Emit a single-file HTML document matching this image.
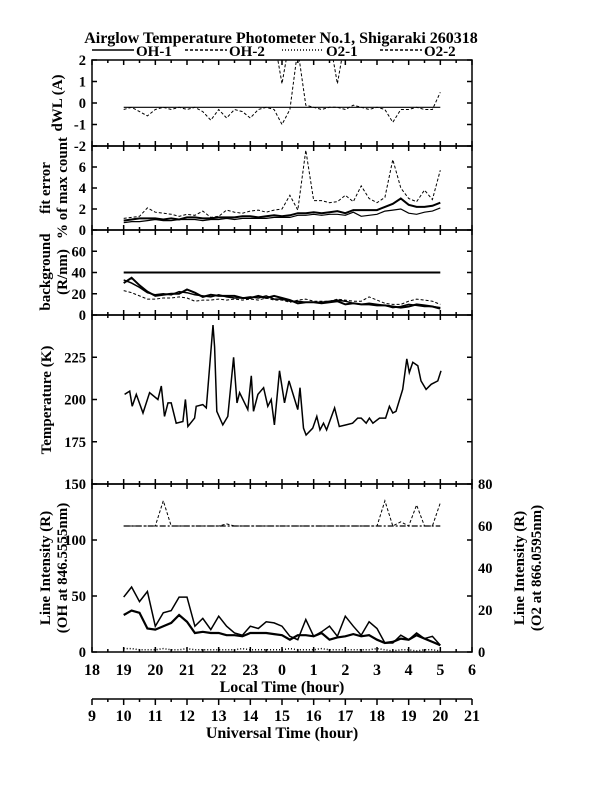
<!DOCTYPE html>
<html><head><meta charset="utf-8"><style>
body{margin:0;background:#fff;width:612px;height:792px;overflow:hidden}
svg{display:block}
text{font-family:"Liberation Serif",serif;font-weight:bold;fill:#000}
</style></head><body>
<svg id="c" width="612" height="792" viewBox="0 0 612 792"></svg>
<script>
// ---- data (x = hours since 19 LT) ----
const gridT=[0,0.25,0.5,0.75,1,1.25,1.5,1.75,2,2.25,2.5,2.75,3,3.25,3.5,3.75,4,4.25,4.5,4.75,5,5.25,5.5,5.75,6,6.25,6.5,6.75,7,7.25,7.5,7.75,8,8.25,8.5,8.75,9,9.25,9.5,9.75,10];
const dwlOH1=[-0.2,-0.2,-0.2,-0.2,-0.2,-0.2,-0.2,-0.2,-0.2,-0.2,-0.2,-0.2,-0.2,-0.2,-0.2,-0.2,-0.2,-0.2,-0.2,-0.2,-0.2,-0.2,-0.2,-0.2,-0.2,-0.2,-0.2,-0.2,-0.2,-0.2,-0.2,-0.2,-0.2,-0.2,-0.2,-0.2,-0.2,-0.2,-0.2,-0.2,-0.2];
const dwlOH2=[-0.3,-0.2,-0.4,-0.6,-0.3,-0.2,-0.3,-0.2,-0.3,-0.2,-0.4,-0.8,-0.3,-0.7,-0.3,-0.4,-0.7,-0.3,-0.2,-0.3,-1.0,-0.3,2.5,-0.1,-0.2,-0.3,-0.2,-0.2,-0.3,-0.1,-0.2,-0.3,-0.2,-0.3,-0.9,-0.3,-0.3,-0.2,-0.3,-0.3,0.5];
const dwlO2=[3,3,2.2,3,3,3,3,3,3,3,3,3,3,3,3,3,3,3,3,3,0.9,3,3,3,3,3,3,0.9,3,3,3,3,3,3,3,3,3,3,3,3,3];
const fitA=[0.9,1.0,1.1,1.1,1.1,1.0,1.1,1.0,1.2,1.2,1.1,1.1,1.2,1.2,1.2,1.3,1.3,1.2,1.3,1.4,1.3,1.4,1.6,1.6,1.7,1.6,1.7,1.8,1.6,1.9,1.9,1.9,1.9,2.2,2.5,3.0,2.4,2.2,2.2,2.3,2.6];
const fitB=[0.7,0.8,0.8,0.9,1.0,0.9,0.9,1.0,1.0,1.0,0.9,1.0,1.0,1.1,1.0,1.1,1.1,1.1,1.1,1.2,1.2,1.2,1.4,1.4,1.5,1.4,1.5,1.5,1.4,1.7,1.3,1.4,1.5,1.8,1.9,2.0,1.6,1.5,1.7,1.8,2.1];
const fitC=[1.1,1.2,1.3,2.1,1.7,1.6,1.5,1.3,1.5,1.4,1.8,1.2,1.3,1.9,1.7,1.6,1.8,1.9,1.7,1.9,2.0,3.3,1.9,7.6,2.8,2.8,2.6,2.7,3.3,2.7,4.2,3.0,2.6,3.1,6.7,4.0,3.0,2.7,3.8,2.9,5.7];
const bgRef=[40,40,40,40,40,40,40,40,40,40,40,40,40,40,40,40,40,40,40,40,40,40,40,40,40,40,40,40,40,40,40,40,40,40,40,40,40,40,40,40,40];
const bgA=[30,35,28,22,18,19,20,20,24,21,17,19,18,18,18,16,16,18,16,18,16,14,11,12,12,11,12,13,10,11,10,10,9,9,8,7,8,10,9,8,6];
const bgB=[33,30,26,21,19,20,19,22,21,19,18,17,19,17,16,16,17,16,18,15,15,13,13,12,12,12,13,14,13,11,10,11,10,9,7,8,10,9,8,8,7];
const bgC=[23,21,18,15,15,16,16,17,16,13,14,14,15,14,15,14,15,14,16,14,14,12,14,15,13,13,13,15,14,13,13,17,14,11,10,10,13,15,14,13,10];
const tempT=[0.03,0.19,0.27,0.40,0.61,0.82,1.08,1.19,1.29,1.40,1.50,1.66,1.87,1.95,2.03,2.24,2.29,2.50,2.61,2.82,2.87,2.94,3.13,3.29,3.47,3.58,3.66,3.92,4.03,4.10,4.24,4.42,4.55,4.66,4.76,4.92,5.08,5.22,5.50,5.57,5.68,5.76,5.97,6.10,6.20,6.31,6.41,6.66,6.81,7.02,7.23,7.39,7.50,7.66,7.76,7.87,8.08,8.27,8.39,8.50,8.60,8.81,8.94,9.02,9.13,9.29,9.39,9.55,9.71,9.92,10.02];
const tempV=[203,205,196,203,192,204,200,208,190,198,198,186,187,200,184,189,196,197,195,244,231,193,185,190,225,198,204,194,214,193,203,207,196,200,185,217,198,211,194,207,183,179,183,190,182,186,182,195,184,185,186,189,189,186,189,186,189,189,196,192,193,206,224,216,222,220,211,206,209,211,217];
const intOH1=[49,58,45,54,23,35,37,49,49,23,30,20,32,23,17,15,23,21,27,26,23,14,11,29,14,18,23,14,32,23,15,27,21,8,8,15,11,17,12,14,6];
const intOH2=[33,37,35,21,20,23,26,33,27,17,18,17,17,15,15,14,17,17,17,16,15,11,15,15,14,17,11,13,14,16,14,15,11,8,9,12,11,15,12,9,6];
const intO2=[3,3,2,2,2,3,2,2,3,2,2,2,2,2,2,3,2,2,2,2,2,3,2,2,2,3,2,2,2,2,2,2,3,2,1,2,2,1,2,2,1];
const intO21=[60,60,60,60,60,60,60,60,60,60,60,60,60,60,60,60,60,60,60,60,60,60,60,60,60,60,60,60,60,60,60,60,60,60,60,60,60,60,60,60,60];
const intO22=[60,60,60,60,60,72,60,60,60,60,60,60,60,61,60,60,60,60,60,60,60,60,60,60,60,60,60,60,60,60,60,60,60,72,60,62,60,70,60,60,71];
const ltLabels=["18","19","20","21","22","23","0","1","2","3","4","5","6"];
const utLabels=["9","10","11","12","13","14","15","16","17","18","19","20","21"];

const NS="http://www.w3.org/2000/svg";
const svg=document.getElementById('c');
const X0=92,X1=472;
const xh=h=>X0+(h+1)*(X1-X0)/12;
function mk(tag,attrs,parent){const e=document.createElementNS(NS,tag);for(const k in attrs)e.setAttribute(k,attrs[k]);(parent||svg).appendChild(e);return e;}
function txt(x,y,s,anchor,size,rot){const t=mk('text',{x:x,y:y,'text-anchor':anchor||'middle','font-size':size||13});if(rot)t.setAttribute('transform','rotate(-90 '+x+' '+y+')');t.textContent=s;return t;}
const defs=mk('defs',{});
const panels=[
 {n:'dwl',top:60,bot:146,min:-2,max:2,ticks:[2,1,0,-1,-2]},
 {n:'fit',top:146,bot:230,min:0,max:8,ticks:[6,4,2,0]},
 {n:'bg',top:230,bot:315,min:0,max:80,ticks:[60,40,20,0]},
 {n:'temp',top:315,bot:484,min:150,max:250,ticks:[225,200,175]},
 {n:'int',top:484,bot:652,min:0,max:150,ticks:[150,100,50,0]}
];
panels.forEach(p=>{
 p.y=v=>p.bot-(v-p.min)*(p.bot-p.top)/(p.max-p.min);
 const cp=mk('clipPath',{id:'cp-'+p.n},defs);mk('rect',{x:X0,y:p.top,width:X1-X0,height:p.bot-p.top},cp);
 const g=mk('g',{});
 
 
 mk('rect',{x:X0,y:p.top,width:X1-X0,height:p.bot-p.top,fill:'none',stroke:'#000','stroke-width':1.5},g);
 for(let h=-1;h<=11;h+=0.5){const x=xh(h);const L=(h%1===0)?5:3;
  mk('line',{x1:x,y1:p.bot,x2:x,y2:p.bot-L,stroke:'#000','stroke-width':1.5},g);
  mk('line',{x1:x,y1:p.top,x2:x,y2:p.top+L,stroke:'#000','stroke-width':1.5},g);}
 p.ticks.forEach(v=>{const y=p.y(v);
  mk('line',{x1:X0,y1:y,x2:X0+5,y2:y,stroke:'#000','stroke-width':1.5},g);
  mk('line',{x1:X1,y1:y,x2:X1-5,y2:y,stroke:'#000','stroke-width':1.5},g);
  const t=txt(86,y+5,String(v),'end',14.5);});
});
function series(p,xs,ys,name,w,dash,yfn){
 const f=yfn||p.y;
 const d=xs.map((h,i)=>(i?'L':'M')+xh(h).toFixed(1)+' '+f(ys[i]).toFixed(1)).join('');
 const e=mk('path',{d:d,fill:'none',stroke:'#000','stroke-width':w,'clip-path':'url(#cp-'+p.n+')'});
 if(dash)e.setAttribute('stroke-dasharray',dash);
 
 
}
const [pD,pF,pB,pT,pI]=panels;
series(pD,gridT,dwlO2,'dwl-o2-line',1,'3,2');
series(pD,gridT,dwlOH2,'dwl-oh2-line',1,'3,2');
series(pD,gridT,dwlOH1,'dwl-oh1-line',1.2);
series(pF,gridT,fitC,'fit-o2-line',1,'3,2');
series(pF,gridT,fitB,'fit-oh2-line',1.2);
series(pF,gridT,fitA,'fit-oh1-line',2);
series(pB,gridT,bgRef,'bg-reference-line',2);
series(pB,gridT,bgC,'bg-o2-line',1,'3,2');
series(pB,gridT,bgB,'bg-oh2-line',1.5);
series(pB,gridT,bgA,'bg-oh1-line',2);
series(pT,tempT,tempV,'temperature-line',1.5);
const yR=v=>pI.bot-v*(pI.bot-pI.top)/80;
series(pI,gridT,intO21,'int-o2-1-line',1.2,'6,2,2,2',yR);
series(pI,gridT,intO22,'int-o2-2-line',1,'3,2',yR);
series(pI,gridT,intOH1,'int-oh1-line',1.5);
series(pI,gridT,intOH2,'int-oh2-line',2.2);
series(pI,gridT,intO2,'int-o2-line',1.5,'1,2');
[0,20,40,60,80].forEach(v=>{const t=txt(478,yR(v)+5,String(v),'start',14.5);});
// x axes
ltLabels.forEach((s,i)=>{const t=txt(xh(i-1),675,s,'middle',16);});
const ua=mk('g',{});
mk('line',{x1:X0,y1:699,x2:X1,y2:699,stroke:'#000','stroke-width':1.5},ua);
for(let h=-1;h<=11;h+=0.5){const x=xh(h);mk('line',{x1:x,y1:699,x2:x,y2:699+((h%1===0)?6:3),stroke:'#000','stroke-width':1.5},ua);}
utLabels.forEach((s,i)=>{const t=txt(xh(i-1),721,s,'middle',16);});
let t;
t=txt(282,692,'Local Time (hour)','middle',16);
t=txt(282,738,'Universal Time (hour)','middle',16);
t=txt(281,43,'Airglow Temperature Photometer No.1, Shigaraki 260318','middle',16);
// y titles
[[62,103,'dWL (A)'],[50,188,'fit error'],[67,188,'% of max count'],[50,272,'background'],[67,272,'(R/nm)'],[51,400,'Temperature (K)'],[50,568,'Line Intensity (R)'],[67,568,'(OH at 846.5555nm)'],[524,568,'Line Intensity (R)'],[541,568,'(O2 at 866.0595nm)']].forEach(a=>{const e=txt(a[0],a[1],a[2],'middle',15,true);});
// legend
[[92,'OH-1',null],[185,'OH-2','3,2'],[282,'O2-1','1,2'],[380,'O2-2','3,2']].forEach(l=>{
 const g=mk('g',{});
 const ln=mk('line',{x1:l[0],y1:50,x2:l[0]+42,y2:50,stroke:'#000','stroke-width':1.5},g);if(l[2])ln.setAttribute('stroke-dasharray',l[2]);
 const e=mk('text',{x:l[0]+44,y:56,'font-size':15},g);e.textContent=l[1];});
</script>
</body></html>
